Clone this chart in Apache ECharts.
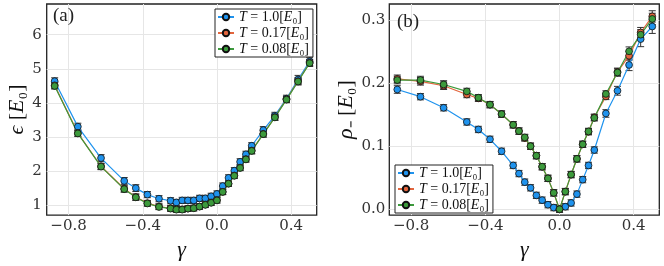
<!DOCTYPE html>
<html><head><meta charset="utf-8">
<script src="https://cdn.jsdelivr.net/npm/echarts@6/dist/echarts.min.js"></script>
<style>html,body{margin:0;padding:0;background:#fff}#c{width:664px;height:266px}</style>
</head><body><div id="c"></div><script>
// gamma grid
const gamma = [-0.875,-0.75,-0.625,-0.5,-0.4375,-0.375,-0.3125,-0.25,-0.21875,-0.1875,-0.15625,-0.125,-0.09375,-0.0625,-0.03125,0,0.03125,0.0625,0.09375,0.125,0.15625,0.1875,0.25,0.3125,0.375,0.4375,0.5];
// panel (a): epsilon [E0]
const epsT10  = [4.64,3.31,2.39,1.72,1.51,1.32,1.20,1.14,1.09,1.15,1.15,1.15,1.21,1.21,1.27,1.34,1.57,1.81,2.02,2.28,2.50,2.75,3.21,3.63,4.13,4.69,5.22];
const epsT017 = [4.52,3.12,2.15,1.49,1.25,1.07,0.97,0.92,0.89,0.89,0.91,0.93,0.97,1.03,1.09,1.16,1.40,1.64,1.88,2.11,2.36,2.61,3.10,3.59,4.11,4.64,5.18];
const epsT008 = [4.50,3.11,2.14,1.48,1.24,1.06,0.96,0.91,0.88,0.88,0.91,0.92,0.97,1.02,1.08,1.15,1.40,1.64,1.87,2.10,2.35,2.60,3.09,3.58,4.10,4.63,5.17];
const epsErrT10  = [0.10,0.10,0.10,0.10,0.10,0.09,0.09,0.09,0.09,0.09,0.09,0.09,0.09,0.09,0.09,0.09,0.09,0.09,0.09,0.09,0.09,0.09,0.10,0.10,0.10,0.12,0.12];
const epsErrT017 = [0.09,0.09,0.09,0.09,0.09,0.08,0.08,0.08,0.08,0.08,0.08,0.08,0.08,0.08,0.08,0.08,0.08,0.08,0.08,0.08,0.08,0.09,0.09,0.09,0.09,0.10,0.10];
const epsErrT008 = [0.09,0.09,0.09,0.09,0.09,0.08,0.08,0.08,0.08,0.08,0.08,0.08,0.08,0.08,0.08,0.08,0.08,0.08,0.08,0.08,0.08,0.09,0.09,0.09,0.09,0.10,0.10];
// panel (b): rho_- [E0]
const rhoT10  = [0.190,0.1786,0.161,0.1385,0.1266,0.111,0.092,0.0695,0.0566,0.043,0.034,0.022,0.0144,0.0072,0.0026,0.0,0.004,0.010,0.024,0.047,0.0695,0.094,0.152,0.188,0.229,0.270,0.290];
const rhoT017 = [0.207,0.203,0.196,0.182,0.176,0.166,0.151,0.134,0.124,0.113,0.100,0.085,0.0675,0.049,0.026,0.0,0.028,0.055,0.080,0.103,0.123,0.146,0.179,0.218,0.2435,0.2805,0.306];
const rhoT008 = [0.205,0.205,0.198,0.187,0.177,0.166,0.151,0.134,0.124,0.114,0.100,0.085,0.0675,0.049,0.026,0.0,0.028,0.055,0.080,0.103,0.1235,0.145,0.183,0.217,0.2506,0.277,0.302];
const rhoErrT10  = [0.006,0.005,0.005,0.005,0.005,0.005,0.005,0.005,0.005,0.005,0.005,0.005,0.005,0.005,0.005,0.005,0.005,0.005,0.005,0.005,0.005,0.005,0.006,0.007,0.009,0.012,0.011];
const rhoErrT017 = [0.006,0.006,0.006,0.005,0.005,0.005,0.005,0.005,0.005,0.005,0.005,0.005,0.005,0.005,0.005,0.005,0.005,0.005,0.005,0.005,0.005,0.005,0.005,0.006,0.007,0.008,0.009];
const rhoErrT008 = [0.006,0.006,0.006,0.005,0.005,0.005,0.005,0.005,0.005,0.005,0.005,0.005,0.005,0.005,0.005,0.005,0.005,0.005,0.005,0.005,0.005,0.005,0.005,0.006,0.007,0.008,0.009];
// ticks
const xTicks = [-0.8,-0.4,0.0,0.4];
const yTicksA = [1,2,3,4,5,6];
const yTicksB = [0.0,0.1,0.2,0.3];

const names = ['T10','T017','T008'];
const labels = {T10:'1.0', T017:'0.17', T008:'0.08'};
const colors = {T10:'#1f93ee', T017:'#e3653d', T008:'#3c9a3c'};
const FONT = "'Liberation Serif', serif";
const TICKFONT = "'DejaVu Serif', serif";
const minus = s => s.replace('-', '\u2212');

function lineSeries(name, vals, gi){
  return {type:'line', name, xAxisIndex:gi, yAxisIndex:gi, z:3,
    data: gamma.map((g,i)=>[g, vals[i]]),
    symbol:'circle', symbolSize:6.8, showSymbol:true,
    lineStyle:{color:colors[name], width:1.2},
    itemStyle:{color:colors[name], borderColor:'#111', borderWidth:0.8},
    emphasis:{disabled:true}, animation:false};
}
function errSeries(vals, errs, gi){
  return {type:'custom', xAxisIndex:gi, yAxisIndex:gi, z:2, silent:true,
    data: gamma.map((g,i)=>[g, vals[i]-errs[i], vals[i]+errs[i]]),
    renderItem:(params, api)=>{
      const lo = api.coord([api.value(0), api.value(1)]);
      const hi = api.coord([api.value(0), api.value(2)]);
      const w = 3.5;
      const st = {stroke:'#333', lineWidth:1};
      return {type:'group', children:[
        {type:'line', shape:{x1:lo[0],y1:lo[1],x2:hi[0],y2:hi[1]}, style:st},
        {type:'line', shape:{x1:lo[0]-w,y1:lo[1],x2:lo[0]+w,y2:lo[1]}, style:st},
        {type:'line', shape:{x1:hi[0]-w,y1:hi[1],x2:hi[0]+w,y2:hi[1]}, style:st}
      ]};
    }, animation:false};
}
const rich = {i:{fontStyle:'italic', fontFamily:FONT, fontSize:14, color:'#111'}};
function legend(left, top){
  return {left, top, orient:'vertical', data:names, selectedMode:false,
    itemWidth:16, itemHeight:8, itemGap:2,
    backgroundColor:'#fff', borderColor:'#222', borderWidth:1, borderRadius:0,
    padding:[1,4,1,2],
    textStyle:{fontFamily:FONT, fontSize:14, color:'#111', rich},
    formatter: n => '{i|T} = ' + labels[n] + '[{i|E}\u2080]'};
}
const axisLab = {fontFamily:TICKFONT, fontSize:15, color:'#333'};
function xAx(gi){
  return {type:'value', gridIndex:gi, min:-0.918, max:0.538,
    name:'{i|\u03b3}', nameLocation:'middle', nameGap:17,
    nameTextStyle:{fontFamily:FONT, fontSize:22, rich:{i:{fontStyle:'italic',fontFamily:FONT,fontSize:22,color:'#111'}}},
    axisLine:{show:false}, axisTick:{show:false, customValues:xTicks},
    axisLabel:{customValues:xTicks, margin:4, ...axisLab, formatter:v=>minus(v.toFixed(1))},
    splitLine:{show:true, lineStyle:{color:'#e6e6e6', width:1}}};
}
const opt = {
  animation:false,
  grid:[
    {left:46.7, top:4, width:270, height:217, show:true, borderColor:'#222', borderWidth:1.3, backgroundColor:'transparent'},
    {left:389.3, top:4, width:270, height:217, show:true, borderColor:'#222', borderWidth:1.3, backgroundColor:'transparent'}
  ],
  title:[
    {text:'(a)', left:48, top:2, textStyle:{fontFamily:FONT, fontSize:19, fontWeight:'normal', color:'#222'}},
    {text:'(b)', left:392, top:8, textStyle:{fontFamily:FONT, fontSize:19, fontWeight:'normal', color:'#222'}}
  ],
  legend:[legend(215, 9), legend(395, 165)],
  xAxis:[xAx(0), xAx(1)],
  yAxis:[
    {type:'value', gridIndex:0, min:0.72, max:6.9,
      name:'{i|\u03f5} [{i|E}\u2080]', nameLocation:'middle', nameGap:15,
      nameTextStyle:{fontFamily:FONT, fontSize:22, color:'#111', rich:{i:{fontStyle:'italic',fontFamily:FONT,fontSize:22,color:'#111'}}},
      axisLine:{show:false}, axisTick:{show:false, customValues:yTicksA},
      axisLabel:{customValues:yTicksA, margin:5, ...axisLab, formatter:v=>String(Math.round(v))},
      splitLine:{show:true, lineStyle:{color:'#e6e6e6', width:1}}},
    {type:'value', gridIndex:1, min:-0.0093, max:0.3257,
      name:'{i|\u03c1}\u208b [{i|E}\u2080]', nameLocation:'middle', nameGap:31,
      nameTextStyle:{fontFamily:FONT, fontSize:22, color:'#111', rich:{i:{fontStyle:'italic',fontFamily:FONT,fontSize:22,color:'#111'}}},
      axisLine:{show:false}, axisTick:{show:false, customValues:yTicksB},
      axisLabel:{customValues:yTicksB, margin:4, ...axisLab, formatter:v=>v.toFixed(1)},
      splitLine:{show:true, lineStyle:{color:'#e6e6e6', width:1}}}
  ],
  series:[
    errSeries(epsT10, epsErrT10, 0), lineSeries('T10', epsT10, 0),
    errSeries(epsT017, epsErrT017, 0), lineSeries('T017', epsT017, 0),
    errSeries(epsT008, epsErrT008, 0), lineSeries('T008', epsT008, 0),
    errSeries(rhoT10, rhoErrT10, 1), lineSeries('T10', rhoT10, 1),
    errSeries(rhoT017, rhoErrT017, 1), lineSeries('T017', rhoT017, 1),
    errSeries(rhoT008, rhoErrT008, 1), lineSeries('T008', rhoT008, 1)
  ]
};
const chart = echarts.init(document.getElementById('c'), null, {renderer:'canvas'});
chart.setOption(opt);
</script></body></html>
